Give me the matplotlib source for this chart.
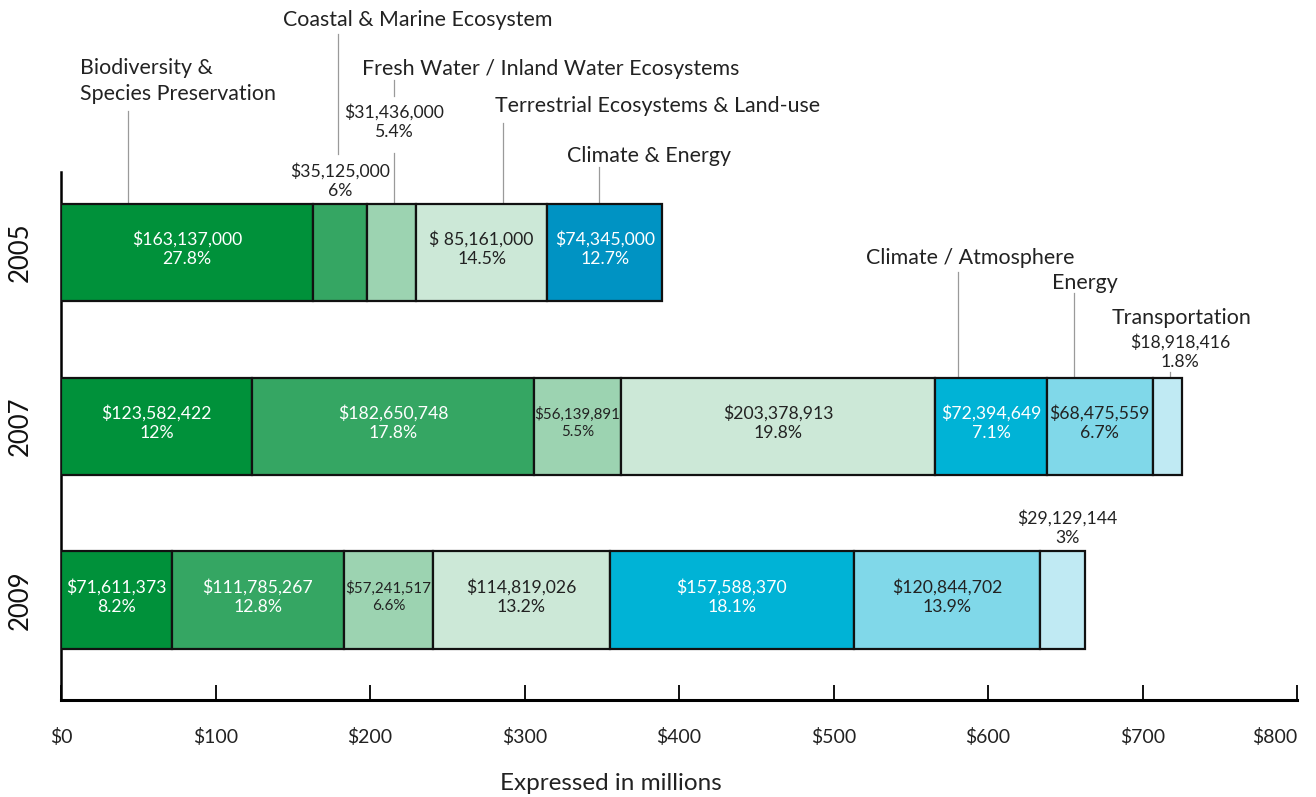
import matplotlib
matplotlib.use("Agg")
import matplotlib.pyplot as plt
import matplotlib.transforms as mtransforms

plt.rcParams['font.family'] = ['Lato', 'DejaVu Sans']

# ---------------- data ----------------
years = ['2005', '2007', '2009']
categories = ['Biodiversity & Species Preservation', 'Coastal & Marine Ecosystem',
              'Fresh Water / Inland Water Ecosystems', 'Terrestrial Ecosystems & Land-use',
              'Climate & Energy', 'Climate / Atmosphere', 'Energy', 'Transportation']
values_2005 = [163137000, 35125000, 31436000, 85161000, 74345000, 0, 0, 0]
values_2007 = [123582422, 182650748, 56139891, 203378913, 0, 72394649, 68475559, 18918416]
values_2009 = [71611373, 111785267, 57241517, 114819026, 0, 157588370, 120844702, 29129144]
pct_2005 = ['27.8%', '6%', '5.4%', '14.5%', '12.7%', '', '', '']
pct_2007 = ['12%', '17.8%', '5.5%', '19.8%', '', '7.1%', '6.7%', '1.8%']
pct_2009 = ['8.2%', '12.8%', '6.6%', '13.2%', '', '18.1%', '13.9%', '3%']
xticks = [0, 100, 200, 300, 400, 500, 600, 700, 800]
xticklabels = ['$0', '$100', '$200', '$300', '$400', '$500', '$600', '$700', '$800']

values = [values_2005, values_2007, values_2009]
pcts = [pct_2005, pct_2007, pct_2009]

# ---------------- style ----------------
colors = ['#00913a', '#35a663', '#9cd3b1', '#cce8d7', '#0093c3', '#00b3d6', '#80d8e9', '#c0eaf3']
text_colors = ['white', 'white', '#222222', '#222222', 'white', 'white', '#222222', '#222222']
W, H = 1316, 797
fig = plt.figure(figsize=(W / 100, H / 100), dpi=100)
ax = fig.add_axes([61 / W, 97 / H, 1236 / W, 528 / H])
ax.set_xlim(0, 800)
ax.set_ylim(2.572, -0.4626)

# labels placed outside the bar (year index, category index)
outside = {(0, 1), (0, 2), (1, 7), (2, 7)}
small = {(1, 2), (2, 2)}
money_override = {(0, 3): '$ 85,161,000'}

fs_val = 12.7
for yi, (vals, pc) in enumerate(zip(values, pcts)):
    left = 0.0
    for ci, v in enumerate(vals):
        if v == 0:
            continue
        m = v / 1e6
        ax.barh(yi, m, left=left, height=0.563, color=colors[ci],
                edgecolor='#111111', linewidth=1.6, zorder=3)
        label = money_override.get((yi, ci), f"${v:,}") + "\n" + pc[ci]
        if (yi, ci) not in outside:
            ax.text(left + m / 2, yi - 0.02, label, ha='center', va='center',
                    fontsize=10.9 if (yi, ci) in small else fs_val,
                    color=text_colors[ci], linespacing=1.3, zorder=4)
        left += m

# ---------------- axes styling ----------------
for s in ['top', 'right']:
    ax.spines[s].set_visible(False)
ax.spines['left'].set_linewidth(1.8)
ax.spines['bottom'].set_linewidth(2.2)
ax.set_yticks([])
ax.set_xticks(xticks)
ax.set_xticklabels(xticklabels, fontsize=14, color='#222222')
ax.tick_params(axis='x', direction='in', length=11, width=1.4, pad=20, color='#111111')
ax.get_xticklabels()[-1].set_horizontalalignment('right')

fig.text(611 / W, 1 - 783 / H, 'Expressed in millions', ha='center', va='center',
         fontsize=17.5, color='#222222')

for yi, yr in enumerate(years):
    ax.text(-41 / 1236 * 800, yi, yr, rotation=90, ha='center', va='center',
            fontsize=18.5, color='#111111')

# ---------------- annotations ----------------
def px(x, y):
    return x / W, 1 - y / H

lc = '#9a9a9a'
lw = 0.9
trans = mtransforms.blended_transform_factory(ax.transData, fig.transFigure)
def vline(xval_px, y0, y1):
    xv = (xval_px - 61) / 1236 * 800
    ax.plot([xv, xv], [1 - y0 / H, 1 - y1 / H], color=lc, lw=lw, transform=trans,
            clip_on=False, zorder=2)

tc = '#222222'
fs_lab = 15.4
fig.text(*px(80, 81), 'Biodiversity &\nSpecies Preservation', ha='left', va='center',
         fontsize=fs_lab, color=tc, linespacing=1.32)
vline(128, 111, 202)

fig.text(*px(283, 20), 'Coastal & Marine Ecosystem', ha='left', va='center', fontsize=fs_lab, color=tc)
vline(338, 34, 154)
fig.text(*px(340, 181), f"${values_2005[1]:,}\n{pct_2005[1]}", ha='center', va='center',
         fontsize=fs_val, color=tc, linespacing=1.3)

fig.text(*px(362, 69), 'Fresh Water / Inland Water Ecosystems', ha='left', va='center',
         fontsize=fs_lab, color=tc)
vline(394, 80, 96)
fig.text(*px(394, 122), f"${values_2005[2]:,}\n{pct_2005[2]}", ha='center', va='center',
         fontsize=fs_val, color=tc, linespacing=1.3)
vline(394, 153, 202)

fig.text(*px(495, 106), 'Terrestrial Ecosystems & Land-use', ha='left', va='center',
         fontsize=fs_lab, color=tc)
vline(503, 123, 202)

fig.text(*px(567, 156), 'Climate & Energy', ha='left', va='center', fontsize=fs_lab, color=tc)
vline(599, 167, 202)

fig.text(*px(866, 258), 'Climate / Atmosphere', ha='left', va='center', fontsize=fs_lab, color=tc)
vline(958, 272, 376)

fig.text(*px(1052, 283), 'Energy', ha='left', va='center', fontsize=fs_lab, color=tc)
vline(1074, 293, 376)

fig.text(*px(1112, 318), 'Transportation', ha='left', va='center', fontsize=fs_lab, color=tc)
fig.text(*px(1180, 352), f"${values_2007[7]:,}\n{pct_2007[7]}", ha='center', va='center',
         fontsize=fs_val, color=tc, linespacing=1.3)
vline(1170, 372, 376)

fig.text(*px(1067, 528), f"${values_2009[7]:,}\n{pct_2009[7]}", ha='center', va='center',
         fontsize=fs_val, color=tc, linespacing=1.3)

fig.savefig('out.png', dpi=100)
